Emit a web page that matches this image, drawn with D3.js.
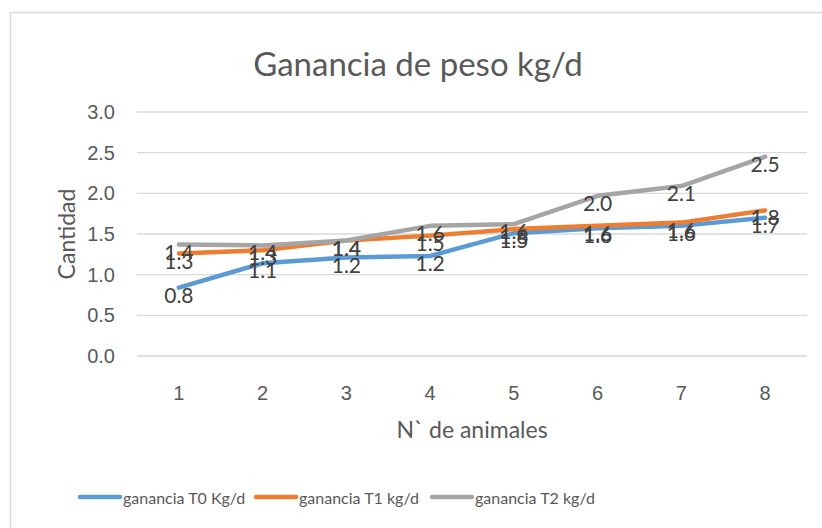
<!DOCTYPE html>
<html>
<head>
<meta charset="utf-8">
<script src="https://cdn.jsdelivr.net/npm/d3@7"></script>
<style>
  body { margin: 0; background: #fff; }
  svg { font-family: Lato, "Open Sans", sans-serif; }
</style>
</head>
<body>
<svg id="chart" width="822" height="528"></svg>
<script>
const animals = ["1", "2", "3", "4", "5", "6", "7", "8"];
const t0 = [0.84, 1.14, 1.21, 1.23, 1.51, 1.57, 1.60, 1.70];
const t1 = [1.26, 1.30, 1.42, 1.48, 1.56, 1.60, 1.64, 1.79];
const t2 = [1.37, 1.36, 1.42, 1.60, 1.62, 1.97, 2.09, 2.45];
const seriesNames = ["ganancia T0 Kg/d", "ganancia T1 kg/d", "ganancia T2 kg/d"];
const colors = ["#5B9BD5", "#ED7D31", "#A5A5A5"];
const yTicks = [0, 0.5, 1, 1.5, 2, 2.5, 3];

const series = [t0, t1, t2].map((vals, i) => ({ name: seriesNames[i], color: colors[i], vals }));

const svg = d3.select("#chart");
const textColor = "#595959";

// chart frame
svg.append("rect")
  .attr("x", 10.5).attr("y", 12.5)
  .attr("width", 900).attr("height", 600)
  .attr("fill", "none").attr("stroke", "#d9d9d9").attr("stroke-width", 1.5);

const margin = { left: 137, right: 807, top: 112, bottom: 356 };

const x = d3.scaleBand()
  .domain(animals)
  .range([margin.left, margin.right]);

const y = d3.scaleLinear()
  .domain([0, 3])
  .range([margin.bottom, margin.top]);

// gridlines
svg.append("g")
  .selectAll("line")
  .data(yTicks)
  .join("line")
  .attr("x1", margin.left).attr("x2", margin.right)
  .attr("y1", d => y(d)).attr("y2", d => y(d))
  .attr("stroke", "#d9d9d9").attr("stroke-width", 1.3);

// y axis labels
const yAxis = g => g
  .attr("transform", `translate(${margin.left},0)`)
  .call(d3.axisLeft(y).tickValues(yTicks).tickFormat(d3.format(".1f")).tickSize(0).tickPadding(22))
  .call(g => g.select(".domain").remove())
  .call(g => g.selectAll("text").attr("fill", textColor).style("font-size", "20px"));

svg.append("g").call(yAxis);

// x axis labels
const xAxis = g => g
  .attr("transform", `translate(0,${margin.bottom})`)
  .call(d3.axisBottom(x).tickSize(0))
  .call(g => g.select(".domain").remove())
  .call(g => g.selectAll("text")
    .attr("y", 44).attr("dy", 0)
    .attr("fill", textColor).style("font-size", "20px"));

svg.append("g").call(xAxis);

// title
svg.append("text")
  .attr("x", 418).attr("y", 76)
  .attr("text-anchor", "middle")
  .attr("fill", textColor)
  .style("font-size", "33px")
  .text("Ganancia de peso kg/d");

// axis titles
svg.append("text")
  .attr("transform", `translate(75,${(margin.top + margin.bottom) / 2}) rotate(-90)`)
  .attr("text-anchor", "middle")
  .attr("fill", textColor)
  .style("font-size", "23px")
  .text("Cantidad");

svg.append("text")
  .attr("x", 472).attr("y", 438)
  .attr("text-anchor", "middle")
  .attr("fill", textColor)
  .style("font-size", "23px")
  .text("N` de animales");

// lines
const line = d3.line()
  .x((d, i) => x(animals[i]) + x.bandwidth() / 2)
  .y(d => y(d));

svg.append("g")
  .selectAll("path")
  .data(series)
  .join("path")
  .attr("d", d => line(d.vals))
  .attr("fill", "none")
  .attr("stroke", d => d.color)
  .attr("stroke-width", 4.5)
  .attr("stroke-linejoin", "round")
  .attr("stroke-linecap", "round");

// data labels
series.forEach(s => {
  svg.append("g")
    .selectAll("text")
    .data(s.vals)
    .join("text")
    .attr("x", (d, i) => x(animals[i]) + x.bandwidth() / 2)
    .attr("y", d => y(d) + 15)
    .attr("text-anchor", "middle")
    .attr("fill", "#404040")
    .style("font-size", "21px")
    .text(d => d3.format(".1f")(d));
});

// legend
const legendX = [80, 256, 432];
const legend = svg.append("g")
  .selectAll("g")
  .data(series)
  .join("g")
  .attr("transform", (d, i) => `translate(${legendX[i]},497)`);

legend.append("line")
  .attr("x1", 0).attr("x2", 40)
  .attr("stroke", d => d.color)
  .attr("stroke-width", 4.5)
  .attr("stroke-linecap", "round");

legend.append("text")
  .attr("x", 43).attr("y", 7)
  .attr("fill", textColor)
  .style("font-size", "16px")
  .text(d => d.name);
</script>
</body>
</html>
